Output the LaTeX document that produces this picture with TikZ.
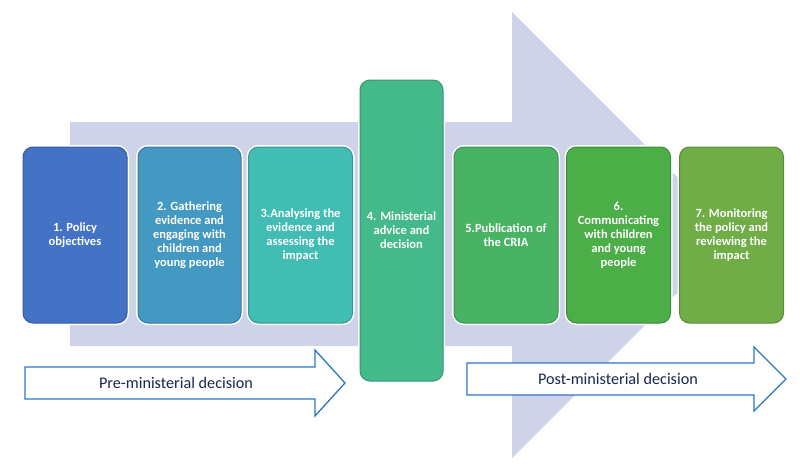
\documentclass[tikz,border=0pt]{standalone}
\usepackage{fontspec}
\setmainfont{Carlito}
\begin{document}
\begin{tikzpicture}[x=1pt,y=-1pt,
  stage/.style={rounded corners=10pt, draw=#1!80!black, line width=1pt,
    fill=#1, text=white, font=\fontsize{12.5}{14}\selectfont\bfseries,
    align=center, inner sep=2pt,
    minimum width=104pt, minimum height=176pt,
    preaction={draw=white, line width=4pt}},
  phase/.style={draw=arrowblue, line width=1.3pt, fill=white},
  phaselabel/.style={text=navytext, font=\fontsize{16.2}{18}\selectfont}]
\definecolor{bgarrow}{HTML}{CED3EA}
\definecolor{c1}{HTML}{4472C4}
\definecolor{c2}{HTML}{4499C2}
\definecolor{c3}{HTML}{42BDB4}
\definecolor{c4}{HTML}{44BA8B}
\definecolor{c5}{HTML}{48B463}
\definecolor{c6}{HTML}{4BAE47}
\definecolor{c7}{HTML}{70AD47}
\definecolor{arrowblue}{HTML}{2E75C6}
\definecolor{navytext}{HTML}{1B2550}
\useasboundingbox (0,0) rectangle (800,466);
\fill[white] (0,0) rectangle (800,466);
% background arrow
\fill[bgarrow] (70,122) -- (512,122) -- (512,12) -- (735,235) -- (512,458) -- (512,346) -- (70,346) -- cycle;
% stages
\node[stage=c1] (s1) at (75,235) {1. Policy\\objectives};
\node[stage=c2, minimum width=103pt] (s2) at (189.5,235) {2. Gathering\\evidence and\\engaging with\\children and\\young people};
\node[stage=c3] (s3) at (300.5,235) {3.Analysing the\\evidence and\\assessing the\\impact};
\node[stage=c4, minimum width=83pt, minimum height=301pt] (s4) at (401.5,230.5) {4. Ministerial\\advice and\\decision};
\node[stage=c5] (s5) at (506,235) {5.Publication of\\the CRIA};
\node[stage=c6] (s6) at (618.5,235) {6.\\Communicating\\with children\\and young\\people};
\node[stage=c7] (s7) at (731.5,235) {7. Monitoring\\the policy and\\reviewing the\\impact};
% phase arrows
\draw[phase] (25,367) -- (315,367) -- (315,350) -- (345,383) -- (315,416) -- (315,399) -- (25,399) -- cycle;
\node[phaselabel] (pre) at (176,383) {Pre-ministerial decision};
\draw[phase] (467,363) -- (754,363) -- (754,347) -- (786,379) -- (754,411) -- (754,395) -- (467,395) -- cycle;
\node[phaselabel] (post) at (618,379) {Post-ministerial decision};
\end{tikzpicture}
\end{document}
